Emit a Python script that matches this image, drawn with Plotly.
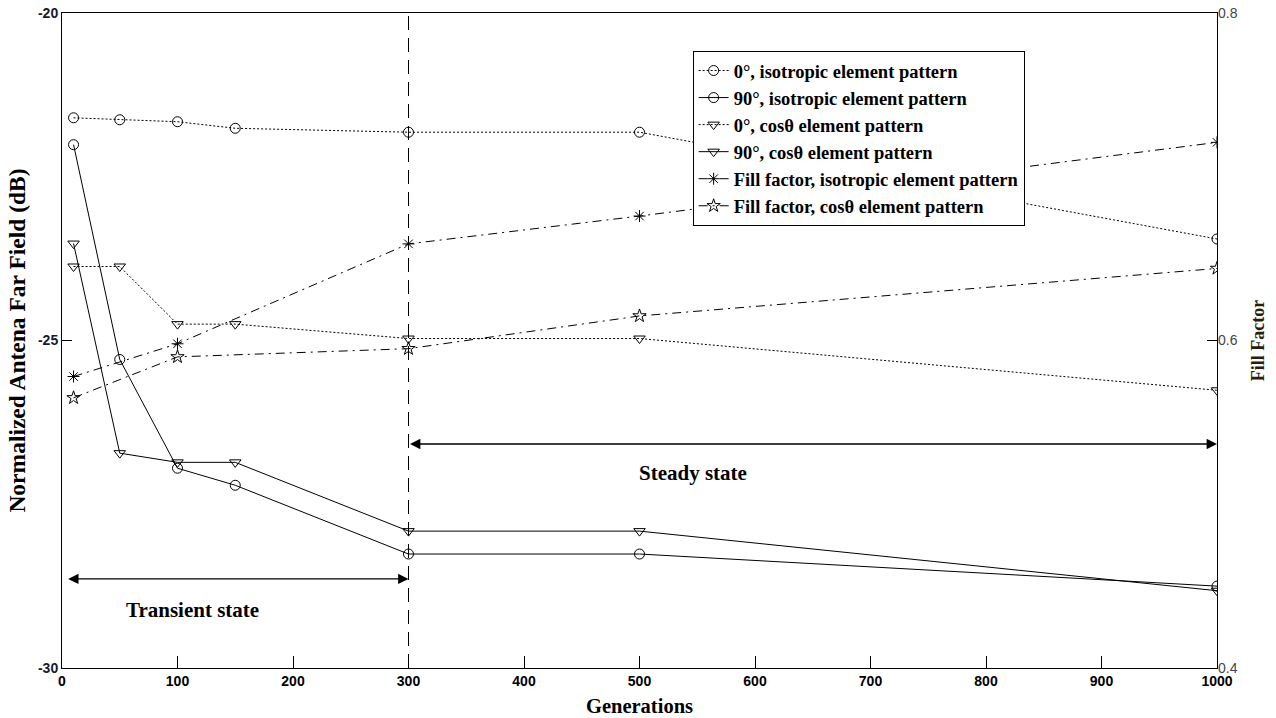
import plotly.graph_objects as go

generations = [10, 50, 100, 150, 300, 500, 1000]
iso_0 = [-21.60, -21.63, -21.66, -21.76, -21.82, -21.82, -23.45]
iso_90 = [-22.01, -25.29, -26.95, -27.21, -28.26, -28.26, -28.75]
cos_0 = [-23.87, -23.87, -24.75, -24.75, -24.97, -24.97, -25.76]
cos_90 = [-23.52, -26.72, -26.86, -26.86, -27.91, -27.91, -28.82]
ff_gen = [10, 100, 300, 500, 1000]
ff_iso = [0.578, 0.598, 0.659, 0.676, 0.721]
ff_cos = [0.565, 0.590, 0.595, 0.615, 0.644]

names = ["0°, isotropic element pattern", "90°, isotropic element pattern",
         "0°, cosθ element pattern", "90°, cosθ element pattern",
         "Fill factor, isotropic element pattern", "Fill factor, cosθ element pattern"]

DOT = "2px,2px"
DASHDOT = "9px,5px,2px,5px"

fig = go.Figure()
def add(x, y, name, sym, dash, yaxis="y"):
    fig.add_trace(go.Scatter(x=x, y=y, name=f"<b>{name}</b>", yaxis=yaxis, mode="lines+markers",
                             line=dict(color="black", width=1, dash=dash),
                             marker=dict(symbol=sym, size=10, color="black",
                                         line=dict(color="black", width=1))))

add(generations, iso_0, names[0], "circle-open", DOT)
add(generations, iso_90, names[1], "circle-open", "solid")
add(generations, cos_0, names[2], "triangle-down-open", DOT)
add(generations, cos_90, names[3], "triangle-down-open", "solid")
add(ff_gen, ff_iso, names[4], "asterisk-open", DASHDOT, "y2")
add(ff_gen, ff_cos, names[5], "star-open", DASHDOT, "y2")

fig.add_shape(type="line", x0=300, x1=300, y0=0, y1=1, xref="x", yref="paper",
              line=dict(color="black", width=1, dash="14px,8px"))

arr = dict(showarrow=True, arrowhead=2, arrowsize=1.6, arrowwidth=1.3, arrowcolor="black",
           arrowside="end+start", axref="x", ayref="y", text="")
fig.add_annotation(x=300, y=-28.64, ax=4, ay=-28.64, **arr)
fig.add_annotation(x=1000, y=-26.58, ax=300, ay=-26.58, **arr)

tfont = dict(family="Liberation Serif", size=21, color="black")
fig.add_annotation(x=113, y=-29.11, text="<b>Transient state</b>", showarrow=False, font=tfont)
fig.add_annotation(x=546, y=-27.02, text="<b>Steady state</b>", showarrow=False, font=tfont)

fig.update_layout(
    width=1276, height=718,
    margin=dict(l=62, r=59, t=13, b=50),
    paper_bgcolor="white", plot_bgcolor="white",
    xaxis=dict(range=[0, 1000], tickvals=list(range(0, 1001, 100)),
               ticktext=[f"<b>{v}</b>" for v in range(0, 1001, 100)],
               ticks="inside", ticklen=12, tickcolor="black", showgrid=False, zeroline=False,
               showline=True, linecolor="black", linewidth=1, mirror=True, automargin=False,
               tickfont=dict(family="Liberation Sans", size=14, color="black"),
               title=dict(text="<b>Generations</b>", standoff=10,
                          font=dict(family="Liberation Serif", size=20.5, color="black"))),
    yaxis=dict(range=[-30, -20], tickvals=[-30, -25, -20],
               ticktext=["<b>-30</b>", "<b>-25</b>", "<b>-20</b>"],
               ticks="inside", ticklen=10, tickcolor="black", showgrid=False, zeroline=False,
               showline=True, linecolor="black", linewidth=1, mirror=True, automargin=False,
               tickfont=dict(family="Liberation Sans", size=14, color="#1a1a2a"),
               title=dict(text="<b>Normalized Antena Far Field (dB)</b>", standoff=5,
                          font=dict(family="Liberation Serif", size=23.5, color="black"))),
    yaxis2=dict(range=[0.4, 0.8], tickvals=[0.4, 0.6, 0.8], overlaying="y", side="right",
                ticks="inside", ticklen=10, tickcolor="black", showgrid=False, zeroline=False,
                showline=False, automargin=False,
                tickfont=dict(family="Liberation Sans", size=14, color="#444444"),
                title=dict(text="<b>Fill Factor</b>", standoff=14,
                           font=dict(family="Liberation Serif", size=18, color="#2b1d0e"))),
    legend=dict(x=0.546, y=0.942, xanchor="left", yanchor="top",
                bgcolor="white", bordercolor="black", borderwidth=1,
                font=dict(family="Liberation Serif", size=18.5, color="black"),
                tracegroupgap=0, itemwidth=30),
    showlegend=True,
)

fig.write_html("out.html", config={"displayModeBar": False},
               post_script="document.body.style.margin='0';document.body.style.padding='0';")
